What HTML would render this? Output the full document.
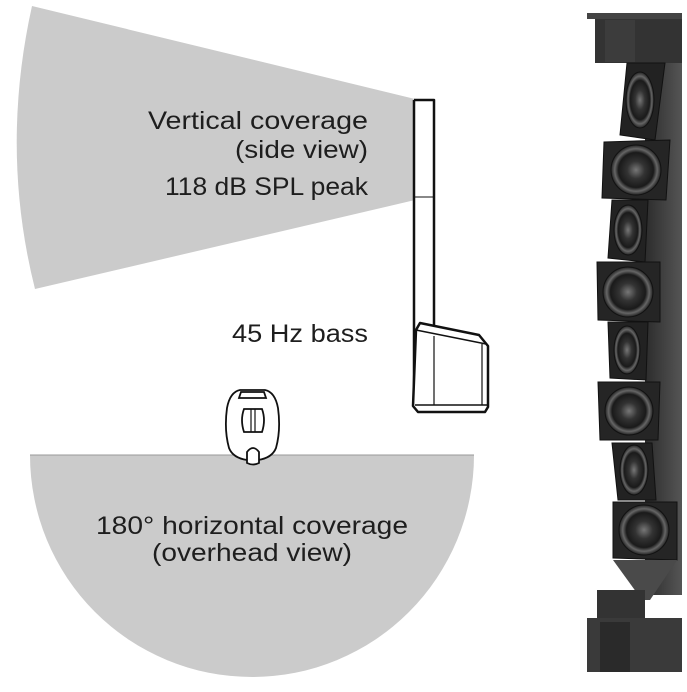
<!DOCTYPE html>
<html><head><meta charset="utf-8"><style>
html,body{margin:0;padding:0;background:#fff;width:687px;height:692px;overflow:hidden}
svg{display:block}
text{font-family:"Liberation Sans",sans-serif;fill:#1e1e1e;font-size:25px}
</style></head><body>
<svg width="687" height="692" viewBox="0 0 687 692" xmlns="http://www.w3.org/2000/svg">
<path d="M32,6 L415,99 L415,200 L35,289 Q0,150 32,6 Z" fill="#cbcbcb"/>
<path d="M30,455 L474,455 A222,222 0 0 1 30,455 Z" fill="#cbcbcb"/>
<line x1="30" y1="455" x2="474" y2="455" stroke="#999" stroke-width="1"/>

<g fill="none" stroke="#111" stroke-width="2.5" stroke-linejoin="round">
<path d="M414,100 L434,100 L434,325 M414,100 L414,405"/>
<line x1="415" y1="197" x2="433" y2="197" stroke-width="1"/>
<path d="M420,323 L479,335 L488,346 L488,407 L485,412 L418,412 L413,406 L416,330 Z" fill="#fff"/>
<line x1="416" y1="330" x2="486" y2="344" stroke-width="1.5"/>
<line x1="434" y1="336" x2="434" y2="405" stroke-width="1.2"/>
<line x1="482" y1="344" x2="482" y2="405" stroke-width="1.2"/>
<line x1="415" y1="405" x2="487" y2="405" stroke-width="1.5"/>
</g>

<g fill="#fff" stroke="#111" stroke-width="1.8">
<path d="M240,390 L265,390 Q275,392 278,408 Q281,430 276,448 Q272,458 258,460 L247,460 Q233,458 229,448 Q224,430 227,408 Q230,392 240,390 Z"/>
<path d="M241,392 L264,392 L266,398 L239,398 Z" fill="none"/>
<path d="M244,409 L262,409 Q266,420 262,432 L244,432 Q240,420 244,409 Z" fill="none"/>
<line x1="251" y1="409" x2="251" y2="432" stroke-width="1.2"/>
<line x1="255" y1="409" x2="255" y2="432" stroke-width="1.2"/>
<path d="M247,463 L247,452 Q253,444 259,452 L259,463 Q253,466 247,463 Z"/>
</g>

<text x="148" y="129" textLength="220" lengthAdjust="spacingAndGlyphs">Vertical coverage</text>
<text x="235" y="158" textLength="133" lengthAdjust="spacingAndGlyphs">(side view)</text>
<text x="165" y="195" textLength="203" lengthAdjust="spacingAndGlyphs">118 dB SPL peak</text>
<text x="232" y="342" textLength="136" lengthAdjust="spacingAndGlyphs">45 Hz bass</text>
<text x="96" y="534" textLength="312" lengthAdjust="spacingAndGlyphs">180° horizontal coverage</text>
<text x="152" y="561" textLength="200" lengthAdjust="spacingAndGlyphs">(overhead view)</text>

<defs>
<radialGradient id="cone" cx="50%" cy="50%" r="50%">
<stop offset="0" stop-color="#777"/><stop offset="0.35" stop-color="#333"/><stop offset="0.7" stop-color="#1a1a1a"/><stop offset="0.85" stop-color="#666"/><stop offset="1" stop-color="#222"/>
</radialGradient>
<linearGradient id="spine" x1="0" x2="1"><stop offset="0" stop-color="#2c2c2c"/><stop offset="1" stop-color="#555"/></linearGradient>
</defs>
<rect x="645" y="15" width="37" height="580" fill="url(#spine)"/>
<rect x="595" y="15" width="87" height="48" fill="#333"/>
<rect x="587" y="13" width="95" height="6" fill="#444"/>
<rect x="605" y="20" width="30" height="42" fill="#3c3c3c"/>
<g stroke="#111" stroke-width="1">
<path d="M627,63 L665,63 L655,140 L620,135 Z" fill="#222"/>
<ellipse cx="640" cy="100" rx="14" ry="28" fill="url(#cone)"/>
<path d="M604,142 L670,140 L666,200 L602,198 Z" fill="#252525"/>
<circle cx="636" cy="170" r="25" fill="url(#cone)"/>
<path d="M612,200 L648,200 L645,262 L608,258 Z" fill="#222"/>
<ellipse cx="628" cy="230" rx="14" ry="25" fill="url(#cone)"/>
<path d="M597,262 L660,262 L660,322 L598,320 Z" fill="#252525"/>
<circle cx="628" cy="292" r="25" fill="url(#cone)"/>
<path d="M608,322 L648,322 L646,380 L610,378 Z" fill="#222"/>
<ellipse cx="627" cy="350" rx="13" ry="24" fill="url(#cone)"/>
<path d="M598,382 L660,382 L658,440 L600,440 Z" fill="#252525"/>
<circle cx="629" cy="411" r="24" fill="url(#cone)"/>
<path d="M612,443 L652,443 L656,500 L618,500 Z" fill="#222"/>
<ellipse cx="634" cy="470" rx="14" ry="25" fill="url(#cone)"/>
<path d="M613,502 L677,502 L677,560 L613,558 Z" fill="#252525"/>
<circle cx="644" cy="530" r="25" fill="url(#cone)"/>
</g>
<path d="M613,560 L677,560 L650,600 L642,600 Z" fill="#4a4a4a"/>
<rect x="597" y="590" width="48" height="35" fill="#333"/>
<rect x="587" y="618" width="95" height="54" fill="#3a3a3a"/>
<rect x="600" y="622" width="30" height="50" fill="#2a2a2a"/>
</svg>
</body></html>
